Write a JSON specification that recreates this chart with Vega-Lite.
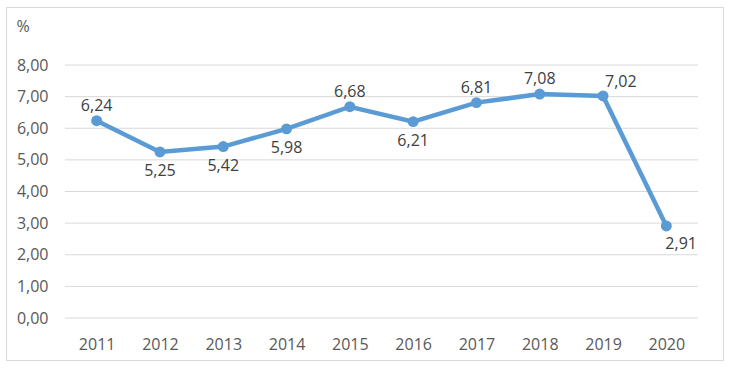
{
  "$schema": "https://vega.github.io/schema/vega-lite/v6.json",
  "width": 717,
  "height": 353,
  "autosize": {"type": "none"},
  "padding": {"left": 6, "top": 7, "right": 9, "bottom": 8},
  "background": "white",
  "config": {
    "locale": {"number": {"decimal": ",", "thousands": ".", "grouping": [3], "currency": ["", ""]}},
    "font": "Open Sans",
    "view": {"stroke": "#d9d9d9", "strokeWidth": 1},
    "axis": {"labelFont": "Open Sans", "labelFontSize": 16, "labelColor": "#595959", "titleFont": "Open Sans"}
  },
  "data": {
    "values": [
      {"year": "2011", "value": 6.24},
      {"year": "2012", "value": 5.25},
      {"year": "2013", "value": 5.42},
      {"year": "2014", "value": 5.98},
      {"year": "2015", "value": 6.68},
      {"year": "2016", "value": 6.21},
      {"year": "2017", "value": 6.81},
      {"year": "2018", "value": 7.08},
      {"year": "2019", "value": 7.02},
      {"year": "2020", "value": 2.91}
    ]
  },
  "resolve": {"scale": {"x": "independent"}, "axis": {"x": "independent"}},
  "layer": [
    {
      "data": {"values": [{"g": 0}, {"g": 1}, {"g": 2}, {"g": 3}, {"g": 4}, {"g": 5}, {"g": 6}, {"g": 7}, {"g": 8}]},
      "mark": {"type": "rule", "color": "#d9d9d9", "strokeWidth": 1},
      "encoding": {
        "x": {"datum": 0, "type": "quantitative", "scale": {"domain": [0, 1], "range": [59, 692]}, "axis": null},
        "x2": {"datum": 1},
        "y": {
          "field": "g", "type": "quantitative",
          "scale": {"domain": [0, 8], "range": [311, 58], "nice": false, "zero": false},
          "axis": {
            "orient": "left", "offset": -59, "domain": false, "ticks": false, "grid": false,
            "values": [0, 1, 2, 3, 4, 5, 6, 7, 8], "format": ".2f", "labelPadding": 17,
            "title": "%", "titleAngle": 0, "titleX": -49, "titleY": 19, "titleAlign": "left",
            "titleBaseline": "middle", "titleFontSize": 16, "titleFontWeight": "normal", "titleColor": "#595959"
          }
        }
      }
    },
    {
      "layer": [
        {
          "mark": {"type": "line", "color": "#5b9bd5", "strokeWidth": 4.5},
          "encoding": {}
        },
        {
          "mark": {"type": "point", "filled": true, "color": "#5b9bd5", "opacity": 1, "size": 120},
          "encoding": {}
        },
        {
          "transform": [{"filter": {"field": "year", "oneOf": ["2011", "2015", "2017", "2018"]}}],
          "mark": {"type": "text", "fontSize": 16, "color": "#404040", "baseline": "alphabetic", "align": "center", "dy": -10},
          "encoding": {"text": {"field": "value", "type": "quantitative", "format": ".2f"}}
        },
        {
          "transform": [{"filter": {"field": "year", "oneOf": ["2012", "2013", "2014", "2016"]}}],
          "mark": {"type": "text", "fontSize": 16, "color": "#404040", "baseline": "alphabetic", "align": "center", "dy": 24},
          "encoding": {"text": {"field": "value", "type": "quantitative", "format": ".2f"}}
        },
        {
          "transform": [{"filter": {"field": "year", "oneOf": ["2019"]}}],
          "mark": {"type": "text", "fontSize": 16, "color": "#404040", "baseline": "alphabetic", "align": "left", "dx": 2, "dy": -9},
          "encoding": {"text": {"field": "value", "type": "quantitative", "format": ".2f"}}
        },
        {
          "transform": [{"filter": {"field": "year", "oneOf": ["2020"]}}],
          "mark": {"type": "text", "fontSize": 16, "color": "#404040", "baseline": "alphabetic", "align": "left", "dx": -1, "dy": 23},
          "encoding": {"text": {"field": "value", "type": "quantitative", "format": ".2f"}}
        }
      ],
      "encoding": {
        "x": {
          "field": "year", "type": "ordinal", "sort": null,
          "scale": {"type": "point", "range": [59, 692], "padding": 0.5},
          "axis": {"orient": "bottom", "offset": -42, "domain": false, "ticks": false, "grid": false, "labelAngle": 0, "labelPadding": 18, "title": null}
        },
        "y": {"field": "value", "type": "quantitative"}
      }
    }
  ]
}
